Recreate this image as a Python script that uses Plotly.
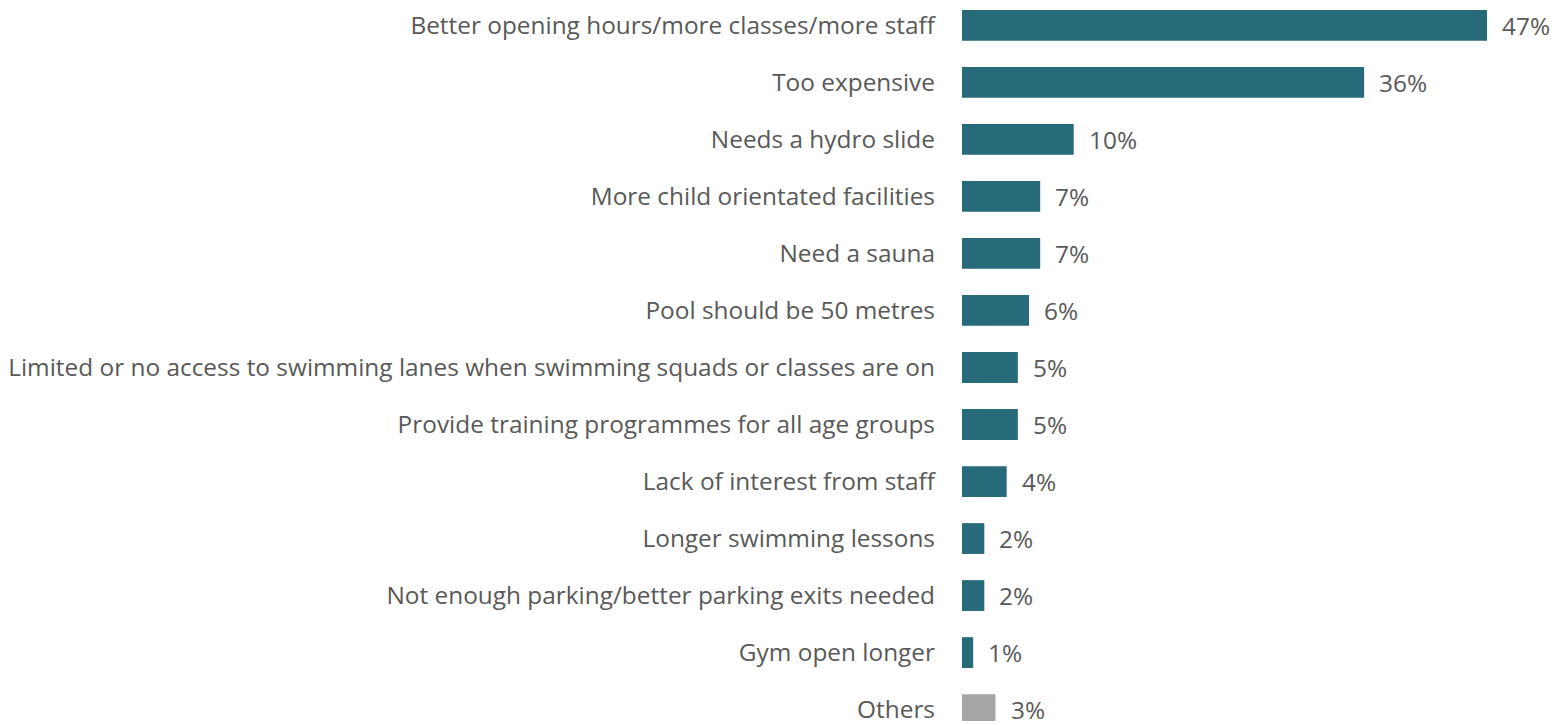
import plotly.graph_objects as go

categories = [
    "Better opening hours/more classes/more staff",
    "Too expensive",
    "Needs a hydro slide",
    "More child orientated facilities",
    "Need a sauna",
    "Pool should be 50 metres",
    "Limited or no access to swimming lanes when swimming squads or classes are on",
    "Provide training programmes for all age groups",
    "Lack of interest from staff",
    "Longer swimming lessons",
    "Not enough parking/better parking exits needed",
    "Gym open longer",
    "Others",
]
values = [47, 36, 10, 7, 7, 6, 5, 5, 4, 2, 2, 1, 3]
labels = [f"{v}%" for v in values]

TEAL = "#276A7A"
GREY = "#A6A6A6"
TEXT = "#595959"
FONT = "Open Sans"
SIZE = 24.4
colors = [GREY if c == "Others" else TEAL for c in categories]

fig = go.Figure(
    go.Bar(
        x=values,
        y=categories,
        orientation="h",
        marker=dict(color=colors, line=dict(width=0)),
        width=0.54,
        hoverinfo="skip",
    )
)

for c, v, t in zip(categories, values, labels):
    fig.add_annotation(
        x=v, y=c, text=t, showarrow=False,
        xanchor="left", yanchor="middle", xshift=13,
        font=dict(family=FONT, size=SIZE, color=TEXT),
    )

fig.update_layout(
    width=1554, height=725,
    margin=dict(l=962, r=0, t=0, b=0),
    paper_bgcolor="white", plot_bgcolor="white",
    showlegend=False,
    font=dict(family=FONT, size=SIZE, color=TEXT),
    xaxis=dict(range=[0, 53], visible=False, fixedrange=True),
    yaxis=dict(
        categoryorder="array", categoryarray=categories,
        range=[12.2, -0.445],
        showgrid=False, zeroline=False, showline=False,
        ticks="", ticklabelstandoff=26,
        tickfont=dict(family=FONT, size=SIZE, color=TEXT),
    ),
)

fig.write_html("out.html")
